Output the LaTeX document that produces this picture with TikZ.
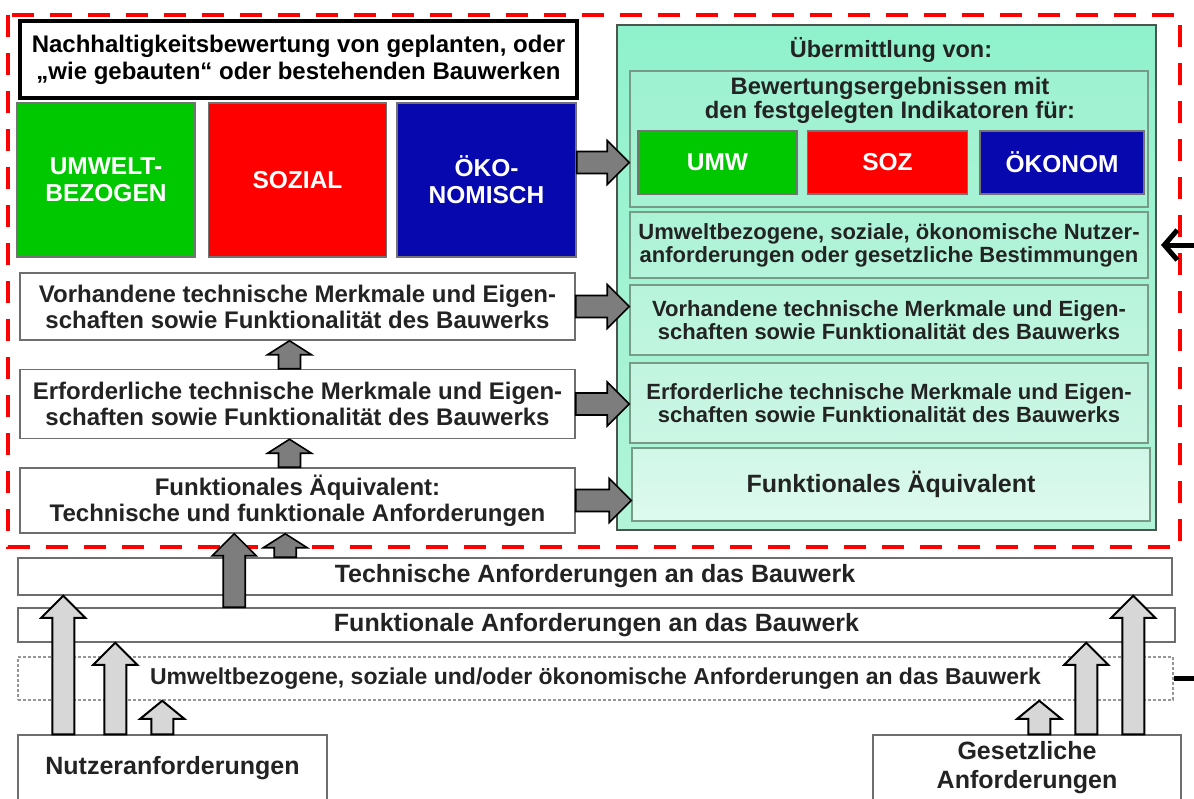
\documentclass[tikz,border=0pt]{standalone}
\usepackage{fontspec}
\setmainfont{Liberation Sans}
\usetikzlibrary{positioning, calc, arrows.meta}
\definecolor{nbgreen}{RGB}{0,200,0}
\definecolor{nbred}{RGB}{255,0,0}
\definecolor{nbblue}{RGB}{8,8,175}
\definecolor{nbtext}{RGB}{35,35,35}
\definecolor{nbline}{RGB}{110,110,110}
\definecolor{nbdot}{RGB}{150,150,150}
\definecolor{panelline}{RGB}{75,85,80}
\definecolor{mintline}{RGB}{120,155,135}
\definecolor{mintA}{RGB}{143,242,204}
\definecolor{mintB}{RGB}{178,244,216}
\definecolor{mintC}{RGB}{158,242,209}
\definecolor{mintD}{RGB}{166,243,212}
\definecolor{mintE}{RGB}{172,243,214}
\definecolor{mintF}{RGB}{180,244,218}
\definecolor{mintG}{RGB}{183,244,219}
\definecolor{mintH}{RGB}{192,245,223}
\definecolor{mintI}{RGB}{193,245,224}
\definecolor{mintJ}{RGB}{203,246,229}
\definecolor{mintK}{RGB}{207,247,231}
\definecolor{mintL}{RGB}{222,250,238}
\definecolor{darkfill}{RGB}{125,125,125}
\definecolor{lightfill}{RGB}{215,215,215}
\tikzset{
  %% ---- boxes ----
  titlebox/.style = {rectangle, draw=black, line width=4pt, fill=white,
                     align=center, text=black, inner sep=0pt,
                     font=\fontsize{24}{27}\selectfont\bfseries},
  plainbox/.style = {rectangle, draw=nbline, line width=1.5pt, fill=white,
                     align=center, text=nbtext, inner sep=0pt,
                     font=\fontsize{24}{26}\selectfont\bfseries},
  colbox/.style   = {rectangle, draw=black!55, line width=1.5pt, fill=#1,
                     align=center, text=white, inner sep=0pt,
                     font=\fontsize{24.5}{27}\selectfont\bfseries},
  panel/.style    = {rectangle, draw=panelline, line width=2pt,
                     top color=mintA, bottom color=mintB, inner sep=0pt},
  mintbox/.style 2 args = {rectangle, draw=mintline, line width=1.5pt,
                     top color=#1, bottom color=#2, minimum width=518pt,
                     align=center, text=nbtext, inner sep=0pt,
                     font=\fontsize{22}{23}\selectfont\bfseries},
  dotbox/.style   = {rectangle, draw=nbdot, line width=1.5pt,
                     dash pattern=on 3pt off 2pt, align=center,
                     text=nbtext, inner sep=0pt,
                     font=\fontsize{23}{25}\selectfont\bfseries},
  redframe/.style = {draw=nbred, line width=4pt, dash pattern=on 22pt off 16pt},
  %% ---- arrows ----
  darkarrow/.style  = {fill=darkfill, draw=black, line width=1.6pt},
  lightarrow/.style = {fill=lightfill, draw=black, line width=2pt},
  feedback/.style   = {draw=black, line width=5pt,
                       -{Straight Barb[length=13pt, width=30pt, line width=5pt]}},
}
% block arrow from #2 to #3, head length #4
\def\fashaft{11pt}
\def\fahead{22pt}
\newcommand{\fatarrow}[4][]{%
  \coordinate (fa-s) at (#2);
  \coordinate (fa-e) at (#3);
  \coordinate (fa-h) at ($(fa-e)!#4!(fa-s)$);
  \draw[#1] ($(fa-s)!\fashaft!90:(fa-e)$) -- ($(fa-h)!\fashaft!90:(fa-e)$)
    -- ($(fa-h)!\fahead!90:(fa-e)$) -- (fa-e)
    -- ($(fa-h)!\fahead!-90:(fa-e)$) -- ($(fa-h)!\fashaft!-90:(fa-e)$)
    -- ($(fa-s)!\fashaft!-90:(fa-e)$) -- cycle;}

\begin{document}
\begin{tikzpicture}[x=1pt, y=1pt]
\useasboundingbox (0,0) rectangle (1194,-798);

%% left column
\node[titlebox, minimum width=557pt, minimum height=77pt] (title) at (298.5,-59.5)
  {Nachhaltigkeitsbewertung von geplanten, oder\\„wie gebauten“ oder bestehenden Bauwerken};
\node[colbox=nbgreen, minimum width=178pt, minimum height=154pt] (umwelt) at (106,-180)
  {UMWELT-\\BEZOGEN};
\node[colbox=nbred, minimum width=178pt, minimum height=154pt,
      right=12pt of umwelt] (sozial) {SOZIAL};
\node[colbox=nbblue, minimum width=179pt, minimum height=154pt,
      right=9pt of sozial] (oekon) {ÖKO-\\NOMISCH};
\node[plainbox, minimum width=555pt, minimum height=67pt] (vorh) at (297.5,-306.5)
  {Vorhandene technische Merkmale und Eigen-\\schaften sowie Funktionalität des Bauwerks};
\node[plainbox, minimum width=555pt, minimum height=69pt,
      below=28pt of vorh] (erf)
  {Erforderliche technische Merkmale und Eigen-\\schaften sowie Funktionalität des Bauwerks};
\node[plainbox, minimum width=555pt, minimum height=65pt,
      below=28pt of erf] (funkl)
  {Funktionales Äquivalent:\\Technische und funktionale Anforderungen};

%% panel on the right
\node[panel, minimum width=539pt, minimum height=505pt] (panel) at (886.5,-277.5) {};
\node[text=nbtext, font=\fontsize{23.5}{25}\selectfont\bfseries] (uebtitle) at (891,-50)
  {Übermittlung von:};
\node[mintbox={mintC}{mintD}, minimum height=136pt] (bewert) at (889,-139) {};
\node[text=nbtext, align=center, font=\fontsize{23.8}{24}\selectfont\bfseries]
  (bewtext) at (890,-100) {Bewertungsergebnissen mit\\den festgelegten Indikatoren für:};
\node[colbox=nbgreen, minimum width=159pt, minimum height=63pt] (umw) at (717.5,-162.5) {UMW};
\node[colbox=nbred, minimum width=160pt, minimum height=63pt,
      right=9pt of umw] (soz) {SOZ};
\node[colbox=nbblue, minimum width=164pt, minimum height=63pt,
      right=11pt of soz] (oekonom) {ÖKONOM};
\node[mintbox={mintE}{mintF}, minimum height=66pt] (pumw) at (889,-245)
  {Umweltbezogene, soziale, ökonomische Nutzer-\\anforderungen oder gesetzliche Bestimmungen};
\node[mintbox={mintG}{mintH}, minimum height=70pt] (pvorh) at (889,-320)
  {Vorhandene technische Merkmale und Eigen-\\schaften sowie Funktionalität des Bauwerks};
\node[mintbox={mintI}{mintJ}, minimum height=80pt] (perf) at (889,-403)
  {Erforderliche technische Merkmale und Eigen-\\schaften sowie Funktionalität des Bauwerks};
\node[mintbox={mintK}{mintL}, minimum height=73pt,
      font=\fontsize{25}{27}\selectfont\bfseries] (pfunk) at (891,-484.5)
  {Funktionales Äquivalent};

%% requirement bars
\node[plainbox, minimum width=1154pt, minimum height=37pt,
      font=\fontsize{25}{27}\selectfont\bfseries] (tech) at (595,-576.5)
  {Technische Anforderungen an das Bauwerk};
\node[plainbox, minimum width=1157pt, minimum height=34pt,
      font=\fontsize{25}{27}\selectfont\bfseries] (funkanf) at (596.5,-625)
  {Funktionale Anforderungen an das Bauwerk};
\node[dotbox, minimum width=1155pt, minimum height=43pt] (umwanf) at (595.5,-678.5)
  {Umweltbezogene, soziale und/oder ökonomische Anforderungen an das Bauwerk};
\node[plainbox, minimum width=309pt, minimum height=66pt,
      font=\fontsize{25}{29}\selectfont\bfseries] (nutzer) at (172.5,-768)
  {Nutzeranforderungen};
\node[plainbox, minimum width=308pt, minimum height=66pt,
      font=\fontsize{25}{29}\selectfont\bfseries] (gesetz) at (1027,-768)
  {Gesetzliche\\Anforderungen};

%% dashed frame
\draw[redframe] (8,-15) rectangle (1180,-547);

%% block arrows
\fatarrow[darkarrow]{oekon.east |- umw.west}{bewert.west |- umw.west}{22pt}
\fatarrow[darkarrow]{vorh.east}{pvorh.west |- vorh.east}{22pt}
\fatarrow[darkarrow]{erf.east}{perf.west |- erf.east}{22pt}
\fatarrow[darkarrow]{funkl.east}{pfunk.west |- funkl.east}{22pt}
\coordinate (c1) at ([xshift=-8pt]erf.north);
\fatarrow[darkarrow]{c1}{c1 |- vorh.south}{14pt}
\coordinate (c2) at ([xshift=-8pt]funkl.north);
\fatarrow[darkarrow]{c2}{c2 |- erf.south}{14pt}
\coordinate (c3) at ([xshift=217pt]funkanf.north west);
\fatarrow[darkarrow]{c3}{c3 |- funkl.south}{22pt}
\coordinate (c4) at ([xshift=268pt]tech.north west);
\fatarrow[darkarrow]{c4}{c4 |- funkl.south}{14pt}

\coordinate (n1) at ([xshift=46pt]nutzer.north west);
\coordinate (n2) at ([xshift=98pt]nutzer.north west);
\coordinate (n3) at ([xshift=145pt]nutzer.north west);
\fatarrow[lightarrow]{n1}{n1 |- tech.south}{22pt}
\fatarrow[lightarrow]{n2}{n2 |- funkanf.south}{22pt}
\fatarrow[lightarrow]{n3}{n3 |- umwanf.south}{18pt}
\coordinate (g1) at ([xshift=167pt]gesetz.north west);
\coordinate (g2) at ([xshift=214pt]gesetz.north west);
\coordinate (g3) at ([xshift=261pt]gesetz.north west);
\fatarrow[lightarrow]{g1}{g1 |- umwanf.south}{18pt}
\fatarrow[lightarrow]{g2}{g2 |- funkanf.south}{22pt}
\fatarrow[lightarrow]{g3}{g3 |- tech.south}{22pt}

%% feedback to the panel
\draw[feedback] (umwanf.east) -- ++(40,0) |- ([xshift=4pt]panel.east |- pumw.east);
\end{tikzpicture}
\end{document}
